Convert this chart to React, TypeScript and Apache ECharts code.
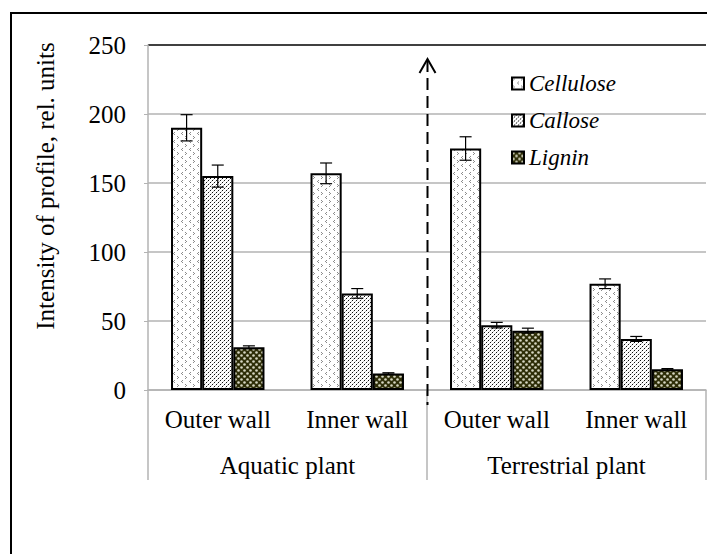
import React, { useEffect, useRef } from 'react';
import * as echarts from 'echarts';

// ---- data ----
const groups = ['Aquatic plant', 'Terrestrial plant'];
const walls = ['Outer wall', 'Inner wall', 'Outer wall', 'Inner wall'];
const categoryKeys = ['Aquatic-Outer', 'Aquatic-Inner', 'Terrestrial-Outer', 'Terrestrial-Inner'];
const seriesNames = ['Cellulose', 'Callose', 'Lignin'];
const cellulose = [190, 157, 175, 77];
const callose = [155, 70, 47, 37];
const lignin = [31, 12, 43, 15];
const celluloseErr = [9.5, 7.5, 8.5, 3.5];
const calloseErr = [8, 3.5, 2, 1.8];
const ligninErr = [1, 0.5, 1.8, 0.5];
const yTicks = [0, 50, 100, 150, 200, 250];
const yTitle = 'Intensity of profile, rel. units';

const FONT = 'Liberation Serif, Times New Roman, serif';
const GAP = 0.33;

function makeTile(w: number, h: number, draw: (ctx: CanvasRenderingContext2D) => void) {
  const c = document.createElement('canvas');
  c.width = w;
  c.height = h;
  const ctx = c.getContext('2d') as CanvasRenderingContext2D;
  draw(ctx);
  return c;
}

function px(ctx: CanvasRenderingContext2D, x: number, y: number, col: string) {
  ctx.fillStyle = col;
  ctx.fillRect(x, y, 1, 1);
}

function makePatterns() {
  const cel = makeTile(8, 8, (ctx) => {
    ctx.fillStyle = '#fff';
    ctx.fillRect(0, 0, 8, 8);
    const g = '#8c8c8c';
    // ">" mark
    px(ctx, 1, 0, g); px(ctx, 2, 1, g); px(ctx, 1, 2, g);
    // "<" mark
    px(ctx, 6, 4, g); px(ctx, 5, 5, g); px(ctx, 6, 6, g);
  });
  const cal = makeTile(4, 4, (ctx) => {
    ctx.fillStyle = '#fff';
    ctx.fillRect(0, 0, 4, 4);
    px(ctx, 0, 0, '#111');
    px(ctx, 2, 2, '#111');
    px(ctx, 1, 3, '#bdbdbd');
    px(ctx, 3, 1, '#bdbdbd');
  });
  const lig = makeTile(6, 6, (ctx) => {
    ctx.fillStyle = '#2e2e08';
    ctx.fillRect(0, 0, 6, 6);
    ctx.fillStyle = '#d6d6c2';
    ctx.beginPath(); ctx.arc(1.5, 1.5, 1.3, 0, Math.PI * 2); ctx.fill();
    ctx.beginPath(); ctx.arc(4.5, 4.5, 1.3, 0, Math.PI * 2); ctx.fill();
  });
  const toPat = (c: HTMLCanvasElement) => ({ image: c, repeat: 'repeat', imageWidth: c.width, imageHeight: c.height } as any);
  return [toPat(cel), toPat(cal), toPat(lig)];
}

function errSeries(k: number, vals: number[], errs: number[]) {
  return {
    type: 'custom',
    name: seriesNames[k] + ' error',
    xAxisIndex: 0,
    yAxisIndex: 0,
    z: 10,
    silent: true,
    data: vals.map((v, i) => [i, v - errs[i], v + errs[i]]),
    encode: { x: 0, y: [1, 2] },
    renderItem: (params: any, api: any) => {
      const idx = api.value(0);
      const base = api.coord([idx, 0]);
      const band = api.size([1, 0])[0];
      const bw = (band * (1 - GAP)) / 3;
      const cx = base[0] + (k - 1) * bw;
      const yl = api.coord([idx, api.value(1)])[1];
      const yh = api.coord([idx, api.value(2)])[1];
      const cap = 6;
      const style = { stroke: '#000', lineWidth: 1.2 };
      return {
        type: 'group',
        children: [
          { type: 'line', shape: { x1: cx, y1: yh, x2: cx, y2: yl }, style },
          { type: 'line', shape: { x1: cx - cap, y1: yh, x2: cx + cap, y2: yh }, style },
          { type: 'line', shape: { x1: cx - cap, y1: yl, x2: cx + cap, y2: yl }, style },
        ],
      };
    },
  };
}

export default function App() {
  const ref = useRef<HTMLDivElement>(null);
  useEffect(() => {
    document.body.style.margin = '0';
    if (!ref.current) return;
    const chart = echarts.init(ref.current, null, { renderer: 'svg' });
    const pats = makePatterns();
    const values = [cellulose, callose, lignin];
    const errs = [celluloseErr, calloseErr, ligninErr];
    const gray = '#b3b3b3';
    const bars = seriesNames.map((n, k) => ({
      type: 'bar',
      name: n,
      data: values[k],
      xAxisIndex: 0,
      yAxisIndex: 0,
      barGap: '0%',
      barCategoryGap: GAP * 100 + '%',
      itemStyle: { color: pats[k], borderColor: '#000', borderWidth: 2 },
    }));
    const option: any = {
      animation: false,
      backgroundColor: '#fff',
      textStyle: { fontFamily: FONT },
      grid: { left: 148, right: 1, top: 45, bottom: 164, containLabel: false },
      legend: {
        orient: 'vertical',
        left: 506,
        top: 67,
        itemWidth: 12,
        itemHeight: 12,
        itemGap: 14,
        icon: 'rect',
        data: seriesNames,
        textStyle: { fontFamily: FONT, fontStyle: 'italic', fontSize: 23, color: '#000' },
      },
      xAxis: [
        {
          type: 'category',
          data: categoryKeys,
          position: 'bottom',
          axisLine: { lineStyle: { color: gray, width: 1.5 } },
          axisTick: { show: false },
          axisLabel: {
            interval: 0,
            margin: 17,
            fontSize: 25,
            color: '#000',
            fontFamily: FONT,
            formatter: (_v: string, i: number) => walls[i],
          },
          splitLine: { show: false },
        },
        {
          type: 'category',
          data: groups,
          position: 'bottom',
          axisLine: { show: false },
          axisTick: { show: true, length: 90, lineStyle: { color: gray, width: 1.5 } },
          axisLabel: { interval: 0, margin: 63, fontSize: 25, color: '#000', fontFamily: FONT },
          splitLine: { show: false },
        },
      ],
      yAxis: {
        type: 'value',
        min: yTicks[0],
        max: yTicks[yTicks.length - 1],
        interval: yTicks[1] - yTicks[0],
        axisLine: { show: true, lineStyle: { color: gray, width: 1.5 } },
        axisTick: { show: true, length: 4, lineStyle: { color: gray } },
        axisLabel: { margin: 22, fontSize: 25, color: '#000', fontFamily: FONT },
        splitLine: {
          show: true,
          lineStyle: { color: [gray, gray, gray, gray, gray, '#000'], width: 1.5 },
        },
      },
      series: [...bars, ...seriesNames.map((_, k) => errSeries(k, values[k], errs[k]))],
    };
    chart.setOption(option);

    const p1 = chart.convertToPixel({ xAxisIndex: 0 } as any, categoryKeys[1]) as number;
    const p2 = chart.convertToPixel({ xAxisIndex: 0 } as any, categoryKeys[2]) as number;
    const ax = Math.round((p1 + p2) / 2) + 0.5;
    const yTop = chart.convertToPixel({ yAxisIndex: 0 } as any, yTicks[yTicks.length - 1]) as number;
    const y0 = chart.convertToPixel({ yAxisIndex: 0 } as any, 0) as number;
    const apex = yTop + 14;
    chart.setOption({
      graphic: [
        {
          type: 'rect',
          silent: true,
          shape: { x: 11, y: 13, width: 760, height: 600 },
          style: { fill: 'none', stroke: '#000', lineWidth: 2 },
        },
        {
          type: 'text',
          x: 45,
          y: 186,
          rotation: Math.PI / 2,
          style: {
            text: yTitle,
            fontSize: 25,
            fontFamily: FONT,
            fill: '#000',
            align: 'center',
            verticalAlign: 'middle',
          },
        },
        {
          type: 'line',
          silent: true,
          shape: { x1: ax, y1: apex + 1, x2: ax, y2: y0 + 15 },
          style: { stroke: '#000', lineWidth: 2, lineDash: [12, 6] },
          z: 20,
        },
        {
          type: 'polyline',
          silent: true,
          shape: { points: [[ax - 8, apex + 14], [ax, apex], [ax + 8, apex + 14]] },
          style: { stroke: '#000', lineWidth: 2, fill: 'none' },
          z: 20,
        },
      ],
    });
    return () => chart.dispose();
  }, []);
  return (
    <div
      ref={ref}
      style={{ position: 'absolute', left: 0, top: 0, width: 707, height: 554, background: '#fff' }}
    />
  );
}
